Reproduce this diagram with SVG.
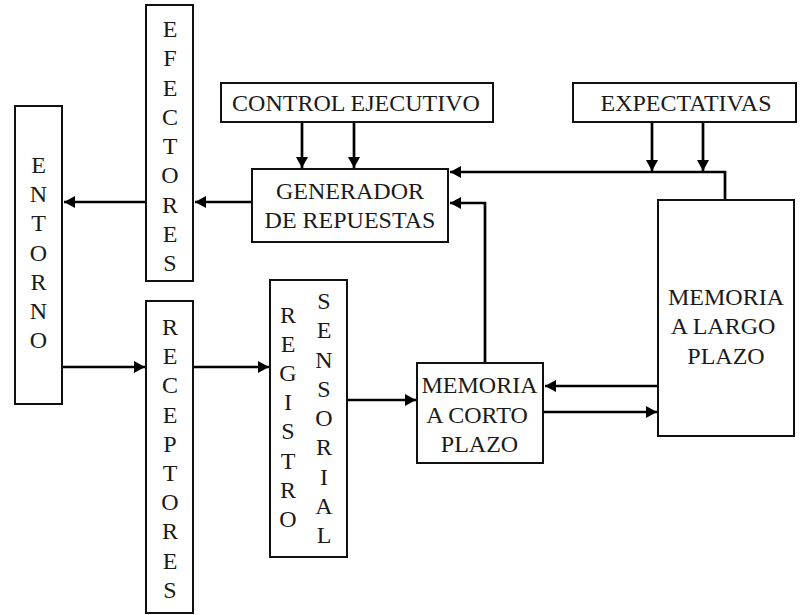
<svg xmlns="http://www.w3.org/2000/svg" width="801" height="615" viewBox="0 0 801 615" font-family="Liberation Serif, DejaVu Serif, serif">
<style>
.box{fill:#fff;stroke:#111;stroke-width:2}
.t{font-family:'Liberation Serif','DejaVu Serif',serif;font-size:24px;fill:#1a1a1a;text-anchor:middle}
.c{fill:none;stroke:#000;stroke-width:2.7}
</style>
<defs>
<marker id="ah" markerUnits="userSpaceOnUse" markerWidth="11" markerHeight="12" refX="11" refY="6" orient="auto">
<path d="M0,0 L11,6 L0,12 z" fill="#000"/>
</marker>
</defs>
<rect width="801" height="615" fill="#fff"/>
<g id="connectors">
<line class="c" x1="252" y1="202" x2="195" y2="202" marker-end="url(#ah)"/>
<line class="c" x1="146" y1="202" x2="64" y2="202" marker-end="url(#ah)"/>
<line class="c" x1="302" y1="122" x2="302" y2="168" marker-end="url(#ah)"/>
<line class="c" x1="354" y1="122" x2="354" y2="168" marker-end="url(#ah)"/>
<line class="c" x1="652" y1="122" x2="652" y2="171" marker-end="url(#ah)"/>
<line class="c" x1="703" y1="122" x2="703" y2="171" marker-end="url(#ah)"/>
<polyline class="c" points="725,200 725,172 450,172" marker-end="url(#ah)"/>
<polyline class="c" points="485,363 485,203 450,203" marker-end="url(#ah)"/>
<line class="c" x1="658" y1="386" x2="545" y2="386" marker-end="url(#ah)"/>
<line class="c" x1="543" y1="412" x2="657" y2="412" marker-end="url(#ah)"/>
<line class="c" x1="62" y1="367" x2="145" y2="367" marker-end="url(#ah)"/>
<line class="c" x1="193" y1="367" x2="269" y2="367" marker-end="url(#ah)"/>
<line class="c" x1="347" y1="400" x2="416" y2="400" marker-end="url(#ah)"/>
</g>
<g id="efectores">
<rect class="box" x="146" y="5" width="47" height="276"/>
<text class="t" font-family="Liberation Serif, serif"><tspan x="170" y="37">E</tspan><tspan x="170" dy="29.25">F</tspan><tspan x="170" dy="29.25">E</tspan><tspan x="170" dy="29.25">C</tspan><tspan x="170" dy="29.25">T</tspan><tspan x="170" dy="29.25">O</tspan><tspan x="170" dy="29.25">R</tspan><tspan x="170" dy="29.25">E</tspan><tspan x="170" dy="29.25">S</tspan></text>
</g>
<g id="entorno">
<rect class="box" x="15" y="106" width="47" height="298"/>
<text class="t"><tspan x="38.5" y="173">E</tspan><tspan x="38.5" dy="29.2">N</tspan><tspan x="38.5" dy="29.2">T</tspan><tspan x="38.5" dy="29.2">O</tspan><tspan x="38.5" dy="29.2">R</tspan><tspan x="38.5" dy="29.2">N</tspan><tspan x="38.5" dy="29.2">O</tspan></text>
</g>
<g id="control">
<rect class="box" x="221" y="83" width="272" height="39"/>
<text class="t" x="356" y="111">CONTROL EJECUTIVO</text>
</g>
<g id="expectativas">
<rect class="box" x="573" y="83" width="223" height="39"/>
<text class="t" x="686" y="111">EXPECTATIVAS</text>
</g>
<g id="generador">
<rect class="box" x="252" y="169" width="196" height="73"/>
<text class="t" x="350" y="199">GENERADOR</text>
<text class="t" x="350" y="228">DE REPUESTAS</text>
</g>
<g id="memoria-largo">
<rect class="box" x="658" y="200" width="136" height="236"/>
<text class="t" x="726" y="305">MEMORIA</text>
<text class="t" x="723" y="334">A LARGO</text>
<text class="t" x="726" y="364">PLAZO</text>
</g>
<g id="memoria-corto">
<rect class="box" x="417" y="363" width="126" height="100"/>
<text class="t" x="479.5" y="393">MEMORIA</text>
<text class="t" x="477" y="423">A CORTO</text>
<text class="t" x="479.5" y="452">PLAZO</text>
</g>
<g id="receptores">
<rect class="box" x="146" y="301" width="47" height="312"/>
<text class="t"><tspan x="170" y="335">R</tspan><tspan x="170" dy="29.2">E</tspan><tspan x="170" dy="29.2">C</tspan><tspan x="170" dy="29.2">E</tspan><tspan x="170" dy="29.2">P</tspan><tspan x="170" dy="29.2">T</tspan><tspan x="170" dy="29.2">O</tspan><tspan x="170" dy="29.2">R</tspan><tspan x="170" dy="29.2">E</tspan><tspan x="170" dy="29.2">S</tspan></text>
</g>
<g id="registro-sensorial">
<rect class="box" x="270" y="280" width="77" height="277"/>
<text class="t"><tspan x="288" y="323">R</tspan><tspan x="288" dy="29.1">E</tspan><tspan x="288" dy="29.1">G</tspan><tspan x="288" dy="29.1">I</tspan><tspan x="288" dy="29.1">S</tspan><tspan x="288" dy="29.1">T</tspan><tspan x="288" dy="29.1">R</tspan><tspan x="288" dy="29.1">O</tspan></text>
<text class="t"><tspan x="324" y="309">S</tspan><tspan x="324" dy="29.25">E</tspan><tspan x="324" dy="29.25">N</tspan><tspan x="324" dy="29.25">S</tspan><tspan x="324" dy="29.25">O</tspan><tspan x="324" dy="29.25">R</tspan><tspan x="324" dy="29.25">I</tspan><tspan x="324" dy="29.25">A</tspan><tspan x="324" dy="29.25">L</tspan></text>
</g>
</svg>
